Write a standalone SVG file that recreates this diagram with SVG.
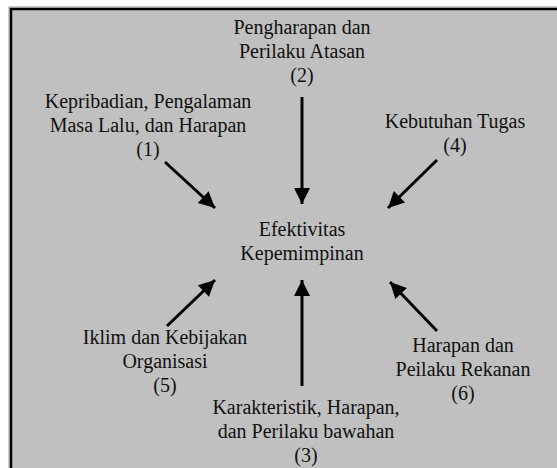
<svg xmlns="http://www.w3.org/2000/svg" width="557" height="468" viewBox="0 0 557 468">
  <style>
    text { font-family: 'Liberation Serif', 'Times New Roman', serif; font-size: 20px; fill: #111; text-anchor: middle; }
    .arrow { stroke: #000; stroke-width: 3; fill: none; marker-end: url(#head); }
  </style>
  <defs>
    <marker id="head" markerUnits="userSpaceOnUse" markerWidth="20" markerHeight="20" viewBox="0 0 20 20" refX="18" refY="10" orient="auto">
      <path d="M2,2 L18,10 L2,18 Z" fill="#000"/>
    </marker>
  </defs>

  <rect width="557" height="468" fill="#fff"/>
  <!-- framed panel, running past the right and bottom edges -->
  <rect x="9" y="7" width="560" height="470" fill="none" stroke="#9a9a9a" stroke-width="1"/>
  <rect x="11" y="9" width="560" height="470" fill="#c0c0c0" stroke="#000" stroke-width="2.5"/>

  <g id="connectors">
    <line class="arrow" x1="302" y1="97" x2="302" y2="204"/>
    <line class="arrow" x1="302" y1="386" x2="302" y2="280"/>
    <line class="arrow" x1="165" y1="162" x2="215" y2="208"/>
    <line class="arrow" x1="437" y1="160" x2="388" y2="208"/>
    <line class="arrow" x1="167" y1="326" x2="215" y2="280"/>
    <line class="arrow" x1="437" y1="331" x2="390" y2="282"/>
  </g>

  <g id="center">
    <text x="302" y="236">Efektivitas</text>
    <text x="302" y="260">Kepemimpinan</text>
  </g>
  <g id="n1">
    <text x="148" y="108">Kepribadian, Pengalaman</text>
    <text x="148" y="132">Masa Lalu, dan Harapan</text>
    <text x="148" y="156">(1)</text>
  </g>
  <g id="n2">
    <text x="302" y="34">Pengharapan dan</text>
    <text x="302" y="58">Perilaku Atasan</text>
    <text x="302" y="82">(2)</text>
  </g>
  <g id="n3">
    <text x="306" y="414">Karakteristik, Harapan,</text>
    <text x="306" y="438">dan Perilaku bawahan</text>
    <text x="306" y="462">(3)</text>
  </g>
  <g id="n4">
    <text x="455" y="128">Kebutuhan Tugas</text>
    <text x="455" y="152">(4)</text>
  </g>
  <g id="n5">
    <text x="165" y="344">Iklim dan Kebijakan</text>
    <text x="165" y="368">Organisasi</text>
    <text x="165" y="392">(5)</text>
  </g>
  <g id="n6">
    <text x="463" y="352">Harapan dan</text>
    <text x="463" y="376">Peilaku Rekanan</text>
    <text x="463" y="400">(6)</text>
  </g>
</svg>
